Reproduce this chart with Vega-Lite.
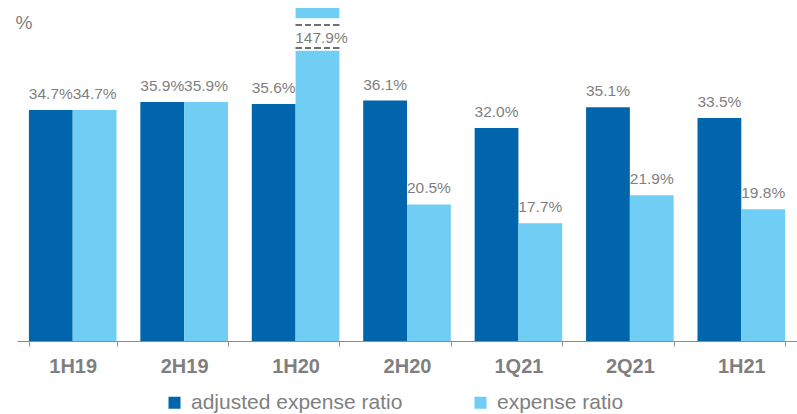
{
  "$schema": "https://vega.github.io/schema/vega-lite/v6.json",
  "width": 780,
  "height": 341,
  "autosize": {"type": "none"},
  "padding": {"left": 17, "top": 0, "right": 0, "bottom": 73},
  "background": "white",
  "config": {"font": "Liberation Sans", "view": {"stroke": null}},
  "data": {
    "values": [
      {"period": "1H19", "series": "adjusted expense ratio", "value": 34.7},
      {"period": "1H19", "series": "expense ratio", "value": 34.7},
      {"period": "2H19", "series": "adjusted expense ratio", "value": 35.9},
      {"period": "2H19", "series": "expense ratio", "value": 35.9},
      {"period": "1H20", "series": "adjusted expense ratio", "value": 35.6},
      {"period": "1H20", "series": "expense ratio", "value": 147.9},
      {"period": "2H20", "series": "adjusted expense ratio", "value": 36.1},
      {"period": "2H20", "series": "expense ratio", "value": 20.5},
      {"period": "1Q21", "series": "adjusted expense ratio", "value": 32.0},
      {"period": "1Q21", "series": "expense ratio", "value": 17.7},
      {"period": "2Q21", "series": "adjusted expense ratio", "value": 35.1},
      {"period": "2Q21", "series": "expense ratio", "value": 21.9},
      {"period": "1H21", "series": "adjusted expense ratio", "value": 33.5},
      {"period": "1H21", "series": "expense ratio", "value": 19.8}
    ]
  },
  "transform": [{"calculate": "format(datum.value, '.1f') + '%'", "as": "label"}],
  "encoding": {
    "x": {
      "field": "period",
      "type": "nominal",
      "sort": ["1H19", "2H19", "1H20", "2H20", "1Q21", "2Q21", "1H21"],
      "scale": {"paddingInner": 0.214, "paddingOuter": 0.107},
      "axis": {
        "title": null,
        "labelFontSize": 20,
        "labelFontWeight": "bold",
        "labelColor": "#7f7f7f",
        "labelAngle": 0,
        "domainColor": "#8c8c8c",
        "tickColor": "#8c8c8c",
        "tickBand": "extent",
        "tickSize": 5,
        "labelPadding": 10,
        "grid": false
      }
    },
    "xOffset": {
      "field": "series",
      "type": "nominal",
      "sort": ["adjusted expense ratio", "expense ratio"],
      "scale": {"paddingInner": 0, "paddingOuter": 0}
    }
  },
  "layer": [
    {
      "mark": {"type": "bar"},
      "encoding": {
        "y": {
          "field": "value",
          "type": "quantitative",
          "scale": {"domain": [0, 43.7, 146.2, 147.9], "range": [341, 50, 19, 8], "nice": false, "zero": false},
          "axis": {
            "title": "%",
            "domain": false,
            "ticks": false,
            "labels": false,
            "grid": false,
            "titleAngle": 0,
            "titleX": -2,
            "titleY": 28,
            "titleAlign": "left",
            "titleBaseline": "alphabetic",
            "titleFontSize": 19,
            "titleFontWeight": "normal",
            "titleColor": "#7f7f7f"
          }
        },
        "color": {
          "field": "series",
          "type": "nominal",
          "scale": {"domain": ["adjusted expense ratio", "expense ratio"], "range": ["#0065AA", "#70CDF4"]},
          "legend": {
            "orient": "none",
            "legendX": 147,
            "legendY": 392,
            "direction": "horizontal",
            "title": null,
            "symbolType": "square",
            "symbolSize": 144,
            "symbolStrokeWidth": 0,
            "labelFontSize": 21,
            "labelColor": "#7f7f7f",
            "labelOffset": 6,
            "labelLimit": 500,
            "columnPadding": 67,
            "padding": 0
          }
        }
      }
    },
    {
      "transform": [{"filter": "datum.value > 100"}],
      "mark": {"type": "bar", "color": "white", "stroke": "white", "strokeWidth": 1.5},
      "encoding": {
        "y": {"datum": 43.7, "type": "quantitative"},
        "y2": {"datum": 146.2}
      }
    },
    {
      "transform": [{"filter": "datum.value > 100"}],
      "mark": {
        "type": "tick",
        "size": 44,
        "thickness": 2,
        "color": {
          "gradient": "linear", "x1": 0, "x2": 1, "y1": 0, "y2": 0,
          "stops": [
            {"offset": 0, "color": "#333333"}, {"offset": 0.1455, "color": "#333333"},
            {"offset": 0.1455, "color": "white"}, {"offset": 0.2136, "color": "white"},
            {"offset": 0.2136, "color": "#333333"}, {"offset": 0.3591, "color": "#333333"},
            {"offset": 0.3591, "color": "white"}, {"offset": 0.4273, "color": "white"},
            {"offset": 0.4273, "color": "#333333"}, {"offset": 0.5727, "color": "#333333"},
            {"offset": 0.5727, "color": "white"}, {"offset": 0.6409, "color": "white"},
            {"offset": 0.6409, "color": "#333333"}, {"offset": 0.7864, "color": "#333333"},
            {"offset": 0.7864, "color": "white"}, {"offset": 0.8545, "color": "white"},
            {"offset": 0.8545, "color": "#333333"}, {"offset": 1, "color": "#333333"}
          ]
        }
      },
      "encoding": {"y": {"datum": 50.3, "type": "quantitative"}}
    },
    {
      "transform": [{"filter": "datum.value > 100"}],
      "mark": {
        "type": "tick",
        "size": 44,
        "thickness": 2,
        "color": {
          "gradient": "linear", "x1": 0, "x2": 1, "y1": 0, "y2": 0,
          "stops": [
            {"offset": 0, "color": "#333333"}, {"offset": 0.1455, "color": "#333333"},
            {"offset": 0.1455, "color": "white"}, {"offset": 0.2136, "color": "white"},
            {"offset": 0.2136, "color": "#333333"}, {"offset": 0.3591, "color": "#333333"},
            {"offset": 0.3591, "color": "white"}, {"offset": 0.4273, "color": "white"},
            {"offset": 0.4273, "color": "#333333"}, {"offset": 0.5727, "color": "#333333"},
            {"offset": 0.5727, "color": "white"}, {"offset": 0.6409, "color": "white"},
            {"offset": 0.6409, "color": "#333333"}, {"offset": 0.7864, "color": "#333333"},
            {"offset": 0.7864, "color": "white"}, {"offset": 0.8545, "color": "white"},
            {"offset": 0.8545, "color": "#333333"}, {"offset": 1, "color": "#333333"}
          ]
        }
      },
      "encoding": {"y": {"datum": 126.4, "type": "quantitative"}}
    },
    {
      "transform": [{"filter": "datum.value < 100"}],
      "mark": {"type": "text", "baseline": "alphabetic", "dy": -11, "fontSize": 15.5, "color": "#7f7f7f"},
      "encoding": {
        "y": {"field": "value", "type": "quantitative"},
        "text": {"field": "label"}
      }
    },
    {
      "transform": [{"filter": "datum.value > 100"}],
      "mark": {"type": "text", "baseline": "alphabetic", "fontSize": 15.5, "color": "#7f7f7f", "dx": 4},
      "encoding": {
        "y": {"datum": 66.8, "type": "quantitative"},
        "text": {"field": "label"}
      }
    }
  ]
}
